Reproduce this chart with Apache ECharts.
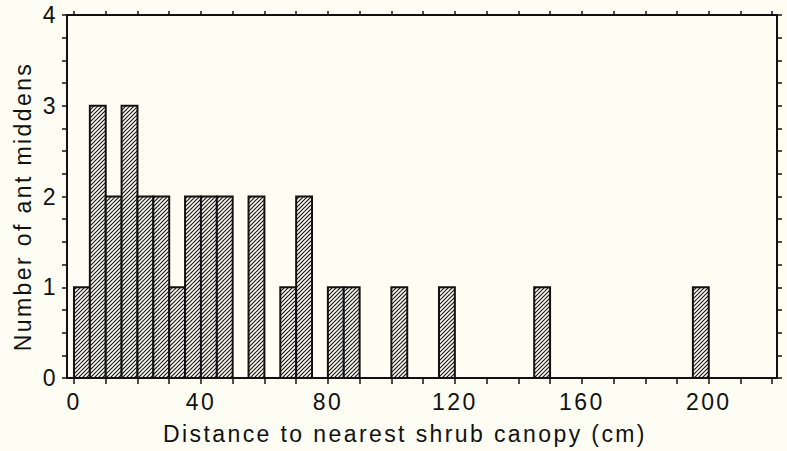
<!DOCTYPE html>
<html>
<head>
<meta charset="utf-8">
<script src="https://cdn.jsdelivr.net/npm/echarts@6/dist/echarts.min.js"></script>
<style>
  html, body { margin: 0; padding: 0; background: #fdfdf3; }
  #chart { width: 787px; height: 451px; }
  #chart text { letter-spacing: 2.4px; }
</style>
</head>
<body>
<div id="chart"></div>
<script>
// Histogram bins (lower edge, cm) and counts of ant middens
const binWidth = 5;
const binStarts = [0, 5, 10, 15, 20, 25, 30, 35, 40, 45, 55, 65, 70, 80, 85, 100, 115, 145, 195];
const counts    = [1, 3, 2, 3, 2, 2, 1, 2, 2, 2, 2, 1, 2, 1, 1, 1, 1, 1, 1];
const xTickValues  = [0, 10, 20, 30, 40, 50, 60, 70, 80, 90, 100, 110, 120, 130, 140, 150, 160, 170, 180, 190, 200, 210, 220];
const xLabelValues = [0, 40, 80, 120, 160, 200];
const yLabelValues = [0, 1, 2, 3, 4];

const xTitle = 'Distance to nearest shrub canopy (cm)';
const yTitle = 'Number of ant middens';

// hatch pattern: "/" lines (x + y = c)
const pc = document.createElement('canvas');
pc.width = 8; pc.height = 8;
const g = pc.getContext('2d');
g.fillStyle = '#fdfdf3';
g.fillRect(0, 0, 8, 8);
g.strokeStyle = '#1a1a1a';
g.lineWidth = 1.2;
for (let c = -4; c <= 20; c += 4) {
  g.beginPath();
  g.moveTo(c - 10, 10);
  g.lineTo(c + 2, -2);
  g.stroke();
}

const data = binStarts.map((s, i) => [s, counts[i]]);

const chart = echarts.init(document.getElementById('chart'), null, { renderer: 'svg' });
const font = '"Liberation Sans", Arial, Helvetica, sans-serif';

const xCommon = {
  type: 'value', min: -2.2, max: 221.5,
  axisLine: { show: true, onZero: false, lineStyle: { color: '#111', width: 2 } },
  splitLine: { show: false }
};
const yCommon = {
  type: 'value', min: 0, max: 4, interval: 0.25,
  axisLine: { show: true, onZero: false, lineStyle: { color: '#111', width: 2 } },
  axisTick: { show: true, length: 5, lineStyle: { color: '#111', width: 1.5 } },
  splitLine: { show: false }
};

chart.setOption({
  backgroundColor: '#fdfdf3',
  animation: false,
  grid: { left: 67, right: 10, top: 15, bottom: 73 },
  xAxis: [
    Object.assign({}, xCommon, {
      position: 'bottom',
      name: xTitle,
      nameLocation: 'middle',
      nameGap: 44,
      nameTextStyle: { fontFamily: font, fontSize: 23, color: '#111', padding: [0, 34, 0, 0] },
      axisTick: { show: true, length: 6, customValues: xTickValues, lineStyle: { color: '#111', width: 1.5 } },
      axisLabel: { show: true, customValues: xLabelValues, margin: 12, fontFamily: font, fontSize: 23, color: '#111' }
    }),
    Object.assign({}, xCommon, {
      position: 'top',
      axisTick: { show: true, length: 4, customValues: xTickValues, lineStyle: { color: '#111', width: 1.5 } },
      axisLabel: { show: false }
    })
  ],
  yAxis: [
    Object.assign({}, yCommon, {
      position: 'left',
      name: yTitle,
      nameLocation: 'middle',
      nameGap: 33,
      nameTextStyle: { fontFamily: font, fontSize: 23, color: '#111', padding: [0, 20, 0, 0] },
      axisLabel: {
        show: true, margin: 9, fontFamily: font, fontSize: 23, color: '#111',
        formatter: v => (yLabelValues.indexOf(v) >= 0 ? String(v) : '')
      }
    }),
    Object.assign({}, yCommon, {
      position: 'right',
      axisLabel: { show: false }
    })
  ],
  series: [{
    type: 'custom',
    xAxisIndex: 0, yAxisIndex: 0,
    data: data,
    renderItem: function (params, api) {
      const x0 = api.value(0);
      const v = api.value(1);
      const p0 = api.coord([x0, 0]);
      const p1 = api.coord([x0 + binWidth, v]);
      return {
        type: 'rect',
        shape: { x: p0[0], y: p1[1], width: p1[0] - p0[0], height: p0[1] - p1[1] },
        style: { fill: { image: pc, repeat: 'repeat' }, stroke: '#111', lineWidth: 2 }
      };
    }
  }]
});
</script>
</body>
</html>
